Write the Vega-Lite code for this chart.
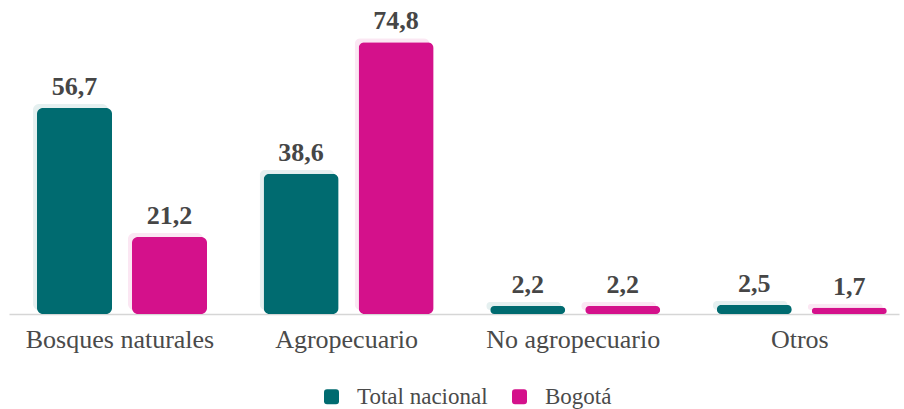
{
  "$schema": "https://vega.github.io/schema/vega-lite/v6.json",
  "width": 890,
  "height": 298,
  "autosize": {"type": "none"},
  "padding": {"left": 9, "top": 16, "right": 5, "bottom": 95},
  "background": "white",
  "config": {
    "view": {"stroke": null},
    "font": "'Liberation Serif', 'Times New Roman', serif",
    "legend": {"labelFont": "'Liberation Serif', 'Times New Roman', serif", "labelFontSize": 23, "labelColor": "#4a4a4a"},
    "locale": {"number": {"decimal": ",", "thousands": ".", "grouping": [3], "currency": ["$", ""]}}
  },
  "data": {
    "values": [
      {"categoria": "Bosques naturales", "serie": "Total nacional", "valor": 56.7},
      {"categoria": "Bosques naturales", "serie": "Bogotá", "valor": 21.2},
      {"categoria": "Agropecuario", "serie": "Total nacional", "valor": 38.6},
      {"categoria": "Agropecuario", "serie": "Bogotá", "valor": 74.8},
      {"categoria": "No agropecuario", "serie": "Total nacional", "valor": 2.2},
      {"categoria": "No agropecuario", "serie": "Bogotá", "valor": 2.2},
      {"categoria": "Otros", "serie": "Total nacional", "valor": 2.5},
      {"categoria": "Otros", "serie": "Bogotá", "valor": 1.7}
    ]
  },
  "encoding": {
    "x": {
      "field": "categoria",
      "type": "nominal",
      "sort": ["Bosques naturales", "Agropecuario", "No agropecuario", "Otros"],
      "scale": {"paddingInner": 0.2321, "paddingOuter": 0.0799, "align": 0.663},
      "axis": {
        "title": null,
        "labelAngle": 0,
        "labelFont": "'Liberation Serif', 'Times New Roman', serif",
        "labelFontSize": 26,
        "labelColor": "#4a4a4a",
        "labelPadding": 12,
        "labelLimit": 0,
        "ticks": false,
        "domainColor": "#d6d6d6",
        "domainWidth": 1.5
      }
    },
    "color": {
      "field": "serie",
      "type": "nominal",
      "scale": {"domain": ["Total nacional", "Bogotá"], "range": ["#006b70", "#d4118b"]},
      "legend": {
        "title": null,
        "orient": "none",
        "direction": "horizontal",
        "legendX": 311,
        "legendY": 369,
        "symbolType": "M-0.6,-1H0.6Q1,-1 1,-0.6V0.6Q1,1 0.6,1H-0.6Q-1,1 -1,0.6V-0.6Q-1,-1 -0.6,-1Z",
        "symbolSize": 225,
        "symbolStrokeWidth": 0,
        "symbolOpacity": 1,
        "labelFont": "'Liberation Serif', 'Times New Roman', serif",
        "labelFontSize": 23,
        "labelColor": "#4a4a4a",
        "labelOffset": 14,
        "columnPadding": 20
      }
    }
  },
  "resolve": {"scale": {"y": "independent", "xOffset": "independent"}},
  "layer": [
    {
      "mark": {"type": "bar", "cornerRadius": 6, "opacity": 0.1},
      "encoding": {
        "xOffset": {
          "field": "serie",
          "type": "nominal",
          "sort": ["Total nacional", "Bogotá"],
          "scale": {"type": "band", "paddingInner": 0.2105, "paddingOuter": 0.02105, "align": 0}
        },
        "y": {
          "field": "valor",
          "type": "quantitative",
          "scale": {"domain": [-1.1, 80.9]},
          "axis": null
        }
      }
    },
    {
      "encoding": {
        "xOffset": {
          "field": "serie",
          "type": "nominal",
          "sort": ["Total nacional", "Bogotá"],
          "scale": {"type": "band", "paddingInner": 0.2105, "paddingOuter": 0.02105, "align": 1}
        },
        "y": {
          "field": "valor",
          "type": "quantitative",
          "scale": {"domain": [0, 82]},
          "axis": null
        }
      },
      "layer": [
        {
          "mark": {"type": "bar", "cornerRadius": 6, "opacity": 1}
        },
        {
          "mark": {"type": "text", "fontWeight": "bold", "fontSize": 26, "dy": -13, "baseline": "alphabetic", "color": "#464646", "font": "'Liberation Serif', 'Times New Roman', serif"},
          "encoding": {
            "color": {"value": "#464646"},
            "text": {"field": "valor", "type": "quantitative", "format": ".1f"}
          }
        }
      ]
    }
  ]
}
